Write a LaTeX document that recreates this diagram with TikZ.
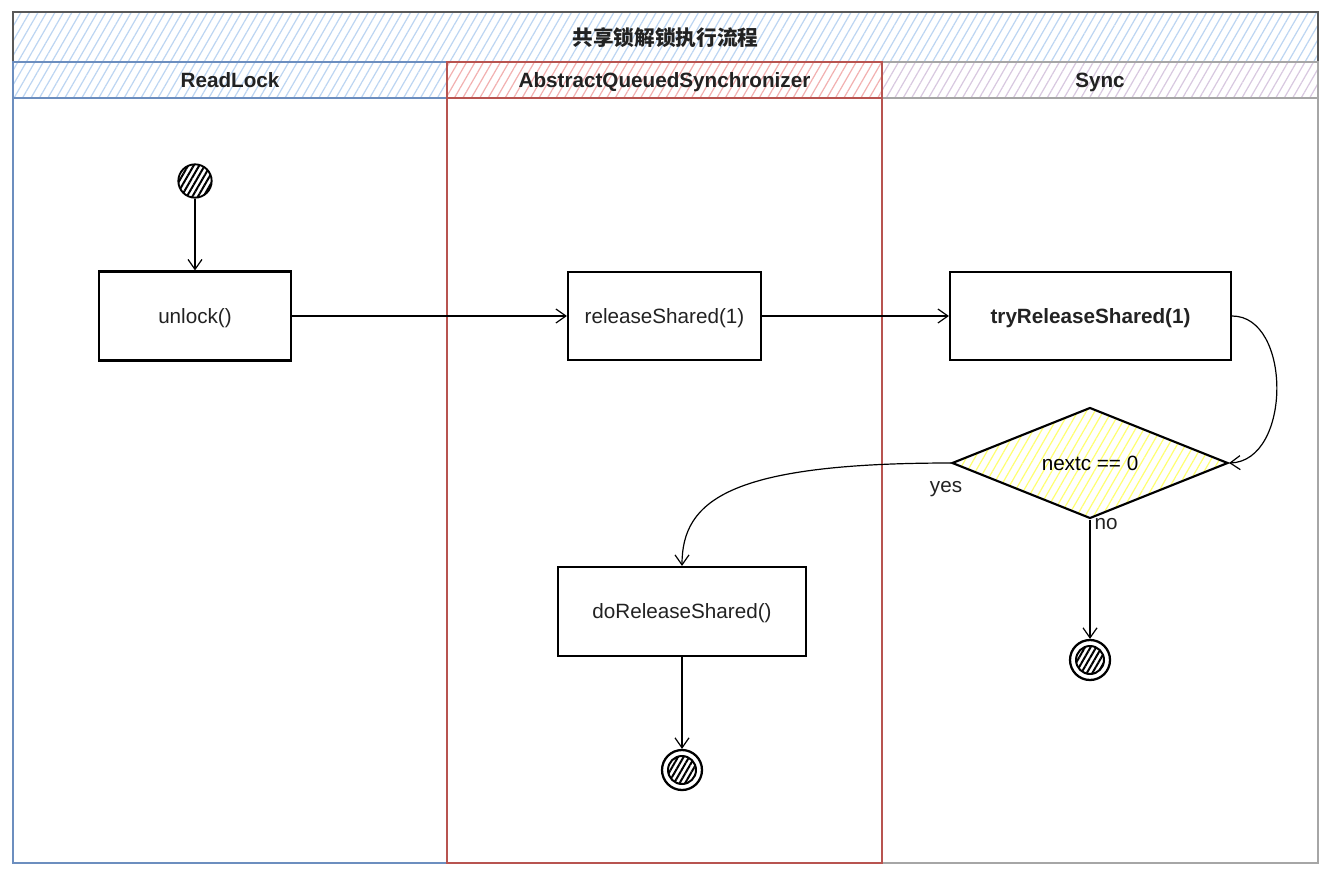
\documentclass[tikz,border=0pt]{standalone}
\usepackage{fontspec}
\setmainfont{Liberation Sans}
\newfontfamily\cjkfont{Noto Sans CJK SC}
\usetikzlibrary{arrows.meta,patterns.meta,shapes.geometric}

\definecolor{laneblue}{HTML}{6C8EBF}
\definecolor{lanered}{HTML}{B85450}
\definecolor{lanegray}{HTML}{A6A6A6}
\definecolor{hatchblue}{HTML}{BCD5F2}
\definecolor{hatchred}{HTML}{F2B0B0}
\definecolor{hatchpurple}{HTML}{D8C8E0}
\definecolor{hatchyellow}{HTML}{FFFF70}
\definecolor{inktext}{HTML}{222222}

\tikzset{
  % size given in drawing units (0.75pt each)
  sized/.style 2 args={minimum width={#1*0.75pt},minimum height={#2*0.75pt}},
  hatch/.style={pattern={Lines[angle=60,distance=5.5pt,line width=0.9pt]},pattern color=#1},
  header/.style={rectangle,draw=#1,line width=1.5pt,inner sep=0pt,text depth=0pt,
    font=\fontsize{15.5}{18}\selectfont\bfseries,text=inktext},
  lanebody/.style={draw=#1,line width=1.5pt,fill=white},
  stepbox/.style={rectangle,draw=black,line width=1.6pt,fill=white,inner sep=0pt,
    text depth=0pt,text=inktext},
  decision/.style={diamond,draw=black,line width=1.6pt,inner sep=0pt,text depth=0pt,
    minimum width=207pt,minimum height=77pt,hatch=hatchyellow},
  startdot/.style={circle,draw=black,line width=1.4pt,minimum size=25pt,inner sep=0pt,
    pattern={Lines[angle=60,distance=3.6pt,line width=1.5pt]},pattern color=black},
  endring/.style={circle,draw=black,line width=1.7pt,minimum size=30pt,inner sep=0pt,fill=white},
  enddot/.style={circle,draw=black,line width=1.5pt,minimum size=21pt,inner sep=0pt,
    pattern={Lines[angle=60,distance=3.6pt,line width=1.5pt]},pattern color=black},
  flow/.style={line width=0.9pt,-{Straight Barb[length=7.5pt,width=10.5pt,line width=0.9pt]}},
  tag/.style={text=inktext,inner sep=0pt}
}

\begin{document}
\begin{tikzpicture}[x=0.75pt,y=-0.75pt,font=\fontsize{15.5}{18}\selectfont]
  % canvas
  \fill[white] (0,0) rectangle (1333,885);
  \useasboundingbox (0,0) rectangle (1333,885);

  % title bar
  \node[header=black!65,hatch=hatchblue,sized={1305}{50}] (title) at (665.5,37) {\cjkfont\bfseries 共享锁解锁执行流程};

  % lane bodies
  \draw[lanebody=laneblue] (13,62) rectangle (447,863);
  \draw[lanebody=lanegray] (882,62) rectangle (1318,863);
  \draw[lanebody=lanered] (447,62) rectangle (882,863);

  % lane headers
  \node[header=laneblue,hatch=hatchblue,sized={434}{36}] (hreadlock) at (230,80) {ReadLock};
  \node[header=lanegray,hatch=hatchpurple,sized={436}{36}] (hsync) at (1100,80) {Sync};
  \node[header=lanered,hatch=hatchred,sized={435}{36}] (haqs) at (664.5,80) {AbstractQueuedSynchronizer};

  % activity nodes
  \node[startdot] (start) at (195,181) {};
  \node[stepbox,sized={192}{89}] (unlock) at (195,316) {unlock()};
  \node[stepbox,sized={193}{88}] (rel) at (664.5,316) {releaseShared(1)};
  \node[stepbox,sized={281}{88},font=\fontsize{15.5}{18}\selectfont\bfseries] (tryrel) at (1090.5,316) {tryReleaseShared(1)};
  \node[decision] (dec) at (1090,463) {nextc == 0};
  \node[stepbox,sized={248}{89}] (dorel) at (682,611.5) {doReleaseShared()};

  % final states
  \node[endring] (end1) at (682,770) {};
  \node[enddot] (end1dot) at (end1.center) {};
  \node[endring] (end2) at (1090,660) {};
  \node[enddot] (end2dot) at (end2.center) {};

  % connectors
  \draw[flow] (start) -- (unlock);
  \draw[flow] (unlock) -- (rel);
  \draw[flow] (rel) -- (tryrel);
  \draw[flow] (tryrel.east) .. controls (1292,316) and (1292,461) .. (dec.east);
  \draw[flow] (dec.west) .. controls (730,463) and (682,500) .. (dorel.north);
  \draw[flow] (dec.south) -- (end2);
  \draw[flow] (dorel) -- (end1);

  % branch labels
  \node[tag] (lyes) at (946,489) {yes};
  \node[tag] (lno) at (1106,524) {no};
\end{tikzpicture}
\end{document}
